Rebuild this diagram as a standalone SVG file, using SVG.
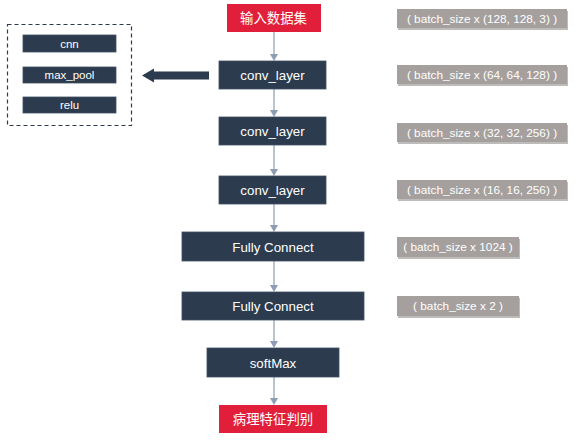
<svg xmlns="http://www.w3.org/2000/svg" width="576" height="440" viewBox="0 0 576 440">
<defs>
<style>
.dark{fill:#2c3b4e;stroke:#3f5063;stroke-width:0.8}
.red{fill:#e11f3b}
.gray{fill:#a5a09e}
.sh{fill:#6f6b69;opacity:0.45}
.t{font-family:"Liberation Sans",Arial,sans-serif;fill:#ffffff;text-anchor:middle}
.big{font-size:13.3px}
.cn{font-family:"Noto Sans CJK SC","Liberation Sans",sans-serif;font-size:13.4px}
.sm{font-size:11.5px}
.gt{font-size:11.8px}
.conn{stroke:#8d9db3;stroke-width:1.2;fill:none}
</style>
</defs>
<rect width="576" height="440" fill="#ffffff"/>

<g id="connectors">
<line class="conn" x1="274" y1="32" x2="274" y2="55"/>
<path d="M270,54 L278,54 L274,61 Z" fill="#8d9db3"/>
<line class="conn" x1="274" y1="89" x2="274" y2="111"/>
<path d="M270,110 L278,110 L274,117 Z" fill="#8d9db3"/>
<line class="conn" x1="274" y1="145" x2="274" y2="170"/>
<path d="M270,169 L278,169 L274,176 Z" fill="#8d9db3"/>
<line class="conn" x1="274" y1="204" x2="274" y2="226"/>
<path d="M270,225 L278,225 L274,232 Z" fill="#8d9db3"/>
<line class="conn" x1="274" y1="261" x2="274" y2="286"/>
<path d="M270,285 L278,285 L274,292 Z" fill="#8d9db3"/>
<line class="conn" x1="274" y1="320" x2="274" y2="342"/>
<path d="M270,341 L278,341 L274,348 Z" fill="#8d9db3"/>
<line class="conn" x1="274" y1="377" x2="274" y2="399"/>
<path d="M270,398 L278,398 L274,405 Z" fill="#8d9db3"/>
<g id="big-arrow">
<rect x="152" y="71.5" width="57" height="8" fill="#2c3b4e"/>
<path d="M142,75.5 L154,68.5 L154,82.5 Z" fill="#2c3b4e"/>
</g>
</g>

<g id="ops-group">
<rect x="7.5" y="24.5" width="124" height="101" fill="none" stroke="#2c3b4e" stroke-width="1.2" stroke-dasharray="4,3"/>
</g>
<g id="cnn"><rect class="dark" x="23" y="35" width="93" height="17"/><text class="t sm" x="69.5" y="47.5">cnn</text></g>
<g id="max_pool"><rect class="dark" x="23" y="67" width="93" height="16"/><text class="t sm" x="69.5" y="79">max_pool</text></g>
<g id="relu"><rect class="dark" x="23" y="97" width="93" height="16"/><text class="t sm" x="69.5" y="109">relu</text></g>

<g id="input"><rect class="red" x="227" y="4" width="94" height="28"/><text class="t cn" x="273.5" y="23">输入数据集</text></g>
<g id="conv1"><rect class="dark" x="219" y="61" width="107" height="28"/><text class="t big" x="272.5" y="80">conv_layer</text></g>
<g id="conv2"><rect class="dark" x="219" y="117" width="107" height="28"/><text class="t big" x="272.5" y="136">conv_layer</text></g>
<g id="conv3"><rect class="dark" x="219" y="176" width="107" height="28"/><text class="t big" x="272.5" y="195">conv_layer</text></g>
<g id="fc1"><rect class="dark" x="182" y="232" width="182" height="29"/><text class="t big" x="273" y="251.5">Fully Connect</text></g>
<g id="fc2"><rect class="dark" x="182" y="292" width="182" height="28"/><text class="t big" x="273" y="311">Fully Connect</text></g>
<g id="softmax"><rect class="dark" x="207" y="348" width="132" height="29"/><text class="t big" x="273" y="367.5">softMax</text></g>
<g id="output"><rect class="red" x="219" y="405" width="108" height="28"/><text class="t cn" x="273" y="424">病理特征判别</text></g>

<g id="shape1"><rect class="sh" x="398" y="11" width="170" height="19"/><rect class="gray" x="397" y="9" width="170" height="19"/><text class="t gt" x="482" y="22.5">( batch_size x (128, 128, 3) )</text></g>
<g id="shape2"><rect class="sh" x="398" y="67" width="170" height="19"/><rect class="gray" x="397" y="65" width="170" height="19"/><text class="t gt" x="482" y="78.5">( batch_size x (64, 64, 128) )</text></g>
<g id="shape3"><rect class="sh" x="398" y="125" width="170" height="19"/><rect class="gray" x="397" y="123" width="170" height="19"/><text class="t gt" x="482" y="136.5">( batch_size x (32, 32, 256) )</text></g>
<g id="shape4"><rect class="sh" x="398" y="182" width="170" height="19"/><rect class="gray" x="397" y="180" width="170" height="19"/><text class="t gt" x="482" y="193.5">( batch_size x (16, 16, 256) )</text></g>
<g id="shape5"><rect class="sh" x="398" y="239" width="122" height="20"/><rect class="gray" x="397" y="237" width="122" height="20"/><text class="t gt" x="458" y="251">( batch_size x 1024 )</text></g>
<g id="shape6"><rect class="sh" x="398" y="298" width="122" height="20"/><rect class="gray" x="397" y="296" width="122" height="20"/><text class="t gt" x="458" y="310">( batch_size x 2 )</text></g>
</svg>
